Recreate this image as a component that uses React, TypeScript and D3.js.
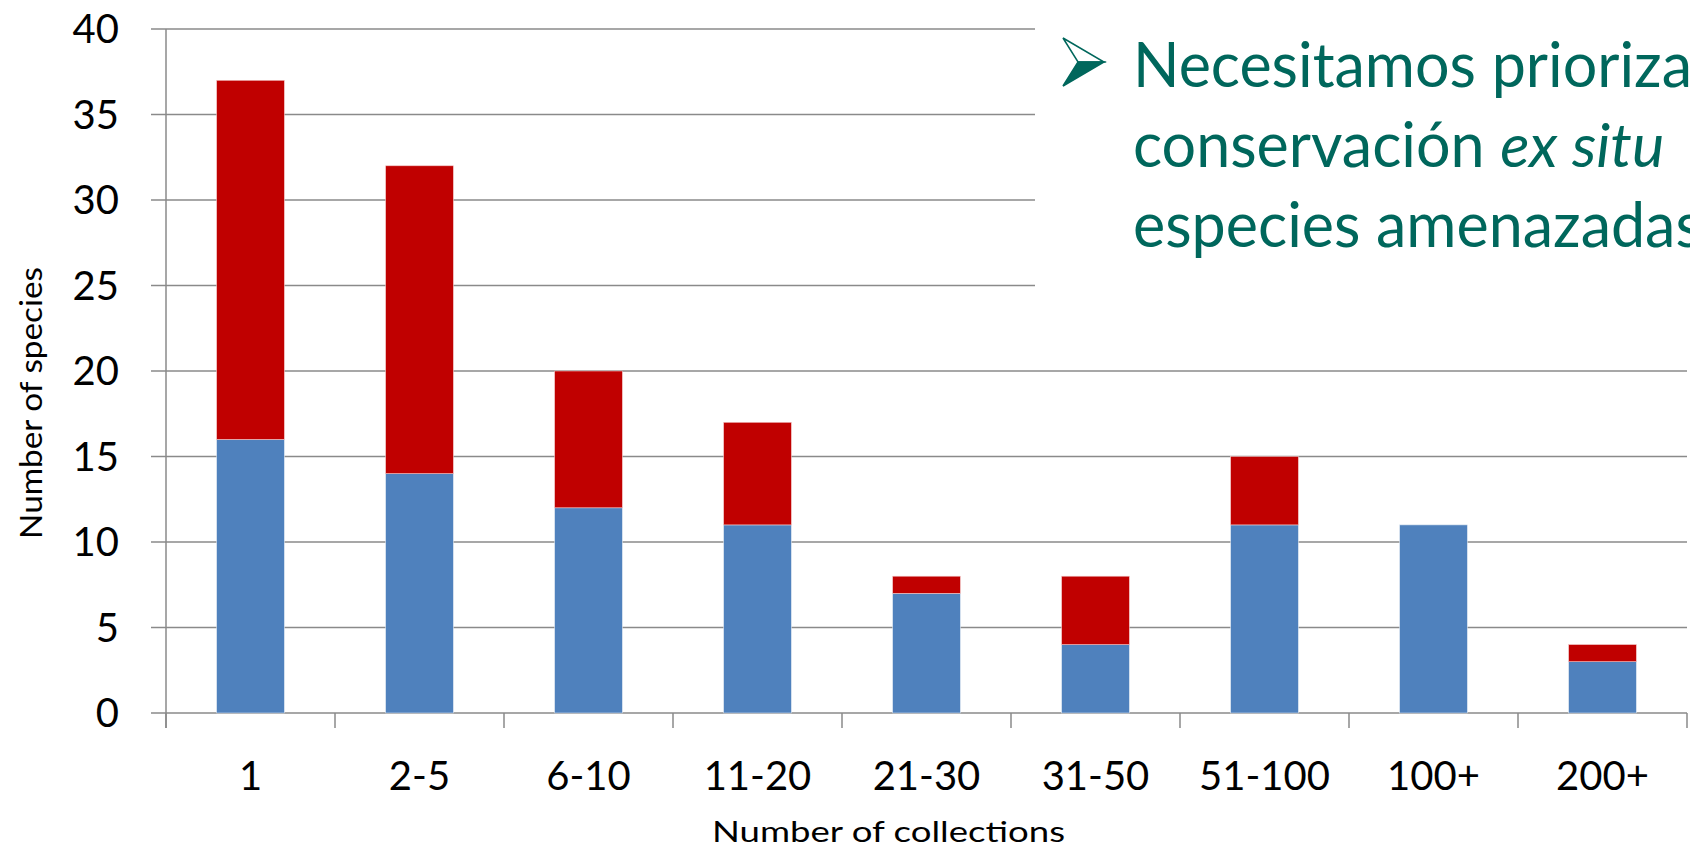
import * as d3 from 'd3';

const categories = ['1', '2-5', '6-10', '11-20', '21-30', '31-50', '51-100', '100+', '200+'];
const blueValues = [16, 14, 12, 11, 7, 4, 11, 11, 3];
const redValues = [21, 18, 8, 6, 1, 4, 4, 0, 1];
const yTicks = [0, 5, 10, 15, 20, 25, 30, 35, 40];
const noteLines = [
  [{ t: 'Necesitamos prioriza', i: false }],
  [{ t: 'conservación ', i: false }, { t: 'ex situ', i: true }],
  [{ t: 'especies amenazadas', i: false }],
];

const W = 1690;
const H = 853;
const FONT = 'Lato, "Open Sans", sans-serif';
const GRID = '#8a8a8a';
const BLUE = '#4f81bd';
const RED = '#c00000';
const TEAL = '#00675c';

export default function App() {
  const x = d3.scaleBand<string>().domain(categories).range([166, 1687]).paddingInner(0.6).paddingOuter(0.3);
  const y = d3.scaleLinear().domain([0, 40]).range([713, 29]);
  const step = x.step();
  const left = 166;

  const stacked = categories.map((c, i) => ({
    c,
    blue: blueValues[i],
    red: redValues[i],
  }));

  return (
    <svg width={W} height={H} style={{ position: 'absolute', left: 0, top: 0, background: '#fff' }}>
      {/* gridlines */}
      {yTicks.map((t) => (
        <line key={t} x1={left - 15} x2={1687} y1={y(t)} y2={y(t)} stroke={GRID} strokeWidth={1.5} />
      ))}
      {/* y axis */}
      <line x1={left} x2={left} y1={y(40)} y2={y(0) + 15} stroke={GRID} strokeWidth={1.5} />
      {/* category ticks */}
      {d3.range(categories.length + 1).map((k) => (
        <line key={k} x1={left + k * step} x2={left + k * step} y1={y(0)} y2={y(0) + 15} stroke={GRID} strokeWidth={1.5} />
      ))}
      {/* bars */}
      {stacked.map((d) => (
        <g key={d.c}>
          <rect x={x(d.c)} width={x.bandwidth()} y={y(d.blue)} height={y(0) - y(d.blue)} fill={BLUE} stroke="#dbe5f1" strokeWidth={0.6} />
          {d.red > 0 && (
            <rect x={x(d.c)} width={x.bandwidth()} y={y(d.blue + d.red)} height={y(d.blue) - y(d.blue + d.red)} fill={RED} stroke="#f2c4c4" strokeWidth={0.6} />
          )}
        </g>
      ))}
      {/* y tick labels */}
      {yTicks.map((t) => (
        <text key={t} x={119} y={y(t)} dy="0.36em" textAnchor="end" fontFamily={FONT} fontSize={40} fill="#000">
          {t}
        </text>
      ))}
      {/* x tick labels */}
      {categories.map((c) => (
        <text key={c} x={(x(c) ?? 0) + x.bandwidth() / 2} y={790} textAnchor="middle" fontFamily={FONT} fontSize={40} fill="#000">
          {c}
        </text>
      ))}
      {/* axis titles */}
      <text x={712} y={842} textLength={353} lengthAdjust="spacingAndGlyphs" fontFamily={FONT} fontSize={28} fill="#000">
        Number of collections
      </text>
      <text transform="translate(42,539) rotate(-90)" textLength={272} lengthAdjust="spacingAndGlyphs" fontFamily={FONT} fontSize={31} fill="#000">
        Number of species
      </text>
      {/* text box */}
      <rect x={1035} y={0} width={W - 1035} height={330} fill="#fff" />
      <path d="M1063,38 L1104,62 L1078,62 Z" fill="#fff" stroke={TEAL} strokeWidth={1.5} strokeLinejoin="miter" />
      <path d="M1078,62 L1104,62 L1063,86 Z" fill={TEAL} stroke={TEAL} strokeWidth={1.5} />
      {noteLines.map((line, li) => (
        <text key={li} x={1133} y={87 + li * 80} fontFamily={FONT} fontSize={61} fill={TEAL}>
          {line.map((s, si) => (
            <tspan key={si} fontStyle={s.i ? 'italic' : 'normal'}>
              {s.t}
            </tspan>
          ))}
        </text>
      ))}
    </svg>
  );
}
